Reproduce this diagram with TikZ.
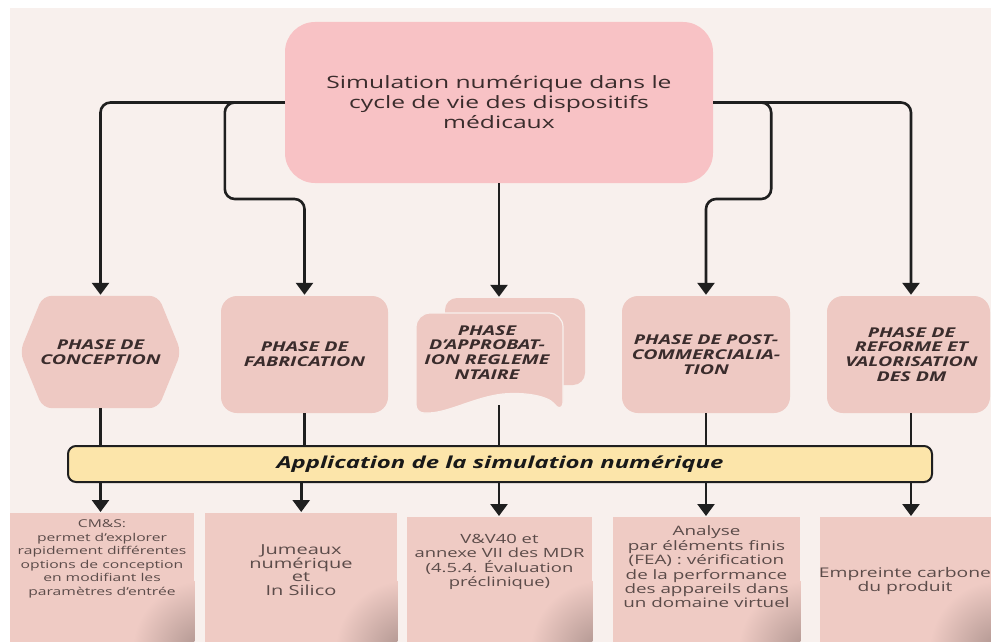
\documentclass[tikz,border=0pt]{standalone}
\usepackage{fontspec}
\setmainfont{Open Sans}[FakeStretch=1.45]
\usetikzlibrary{arrows.meta,calc,backgrounds}
\definecolor{bg}{HTML}{F8F0ED}
\definecolor{toppink}{HTML}{F8C2C5}
\definecolor{phasepink}{HTML}{EEC9C3}
\definecolor{botpink}{HTML}{EFCBC4}
\definecolor{bandyellow}{HTML}{FCE5AA}
\definecolor{txtdark}{HTML}{3A2C2C}
\definecolor{txtgray}{HTML}{5B4B49}
\begin{document}
\begin{tikzpicture}[x=1pt,y=-1pt,
  conn/.style={line width=2.6pt, draw=black!88, rounded corners=10pt},
  arr/.style={conn, -{Triangle[width=17pt,length=12pt]}, shorten >=1pt},
  phasetext/.style={font=\fontsize{13.5}{14.8}\selectfont\bfseries\itshape, text=txtdark, align=center, inner sep=0pt},
  phasebox/.style={phasetext, fill=phasepink, rounded corners=16pt},
  botshape/.style={fill=botpink, inner sep=0pt, anchor=north west},
  bottext/.style={align=center, text=txtgray, inner sep=0pt},
  corner/.style={inner color=black!28!botpink, outer color=botpink}
]
\useasboundingbox (0,0) rectangle (991,642);

% top node
\node[fill=toppink, rounded corners=30pt, minimum width=428pt, minimum height=161pt,
  align=center, text=txtdark, font=\fontsize{17}{20}\selectfont] (top) at (499,102.5)
  {Simulation numérique dans le\\cycle de vie des dispositifs\\médicaux};

% phase nodes
\node[phasetext, minimum width=161pt, minimum height=112pt] (conc) at (100.5,352) {PHASE DE\\CONCEPTION};
\begin{scope}[on background layer]
\fill[bg] (10,8) rectangle (991,642);
\fill[phasepink, rounded corners=9pt] (conc.west) -- ($(conc.north west)+(23,0)$) -- ($(conc.north east)+(-23,0)$)
  -- (conc.east) -- ($(conc.south east)+(-23,0)$) -- ($(conc.south west)+(23,0)$) -- cycle;
\end{scope}
\node[phasebox, minimum width=167pt, minimum height=117pt] (fab) at (304.5,354.5) {PHASE DE\\FABRICATION};
\node[fill=phasepink, rounded corners=12pt, minimum width=140pt, minimum height=87pt, inner sep=0pt] (appb) at (515,341.5) {};
\fill[phasepink, draw=bg, line width=1.2pt, rounded corners=14pt]
  (416,380) -- (416,313) -- (563,313) -- (563,415)
  [rounded corners=0pt] .. controls (548,396) and (525,392) .. (503,394)
  .. controls (475,397) and (448,413) .. (428,413) [rounded corners=8pt] -- (416,413) -- cycle;
\node[phasetext] (appr) at (487,352.5) {PHASE\\D'APPROBAT-\\ION REGLEME\\NTAIRE};
\coordinate (apprbot) at (499,405);
\node[phasebox, minimum width=168pt, minimum height=117pt] (post) at (706,354.5) {PHASE DE POST-\\COMMERCIALIA-\\TION};
\node[phasebox, minimum width=163pt, minimum height=117pt] (ref) at (908.5,354.5) {\hspace*{6pt}PHASE DE\\\hspace*{6pt}REFORME ET\\\hspace*{6pt}VALORISATION\\\hspace*{6pt}DES DM};
\coordinate (refx) at (911,413);

% band
\node[fill=bandyellow, draw=black!88, line width=2pt, rounded corners=8pt,
  minimum width=864pt, minimum height=36pt, inner sep=0pt,
  font=\fontsize{16.5}{19}\selectfont\bfseries\itshape, text=black!90] (band) at (500,464)
  {Application de la simulation numérique};

% bottom boxes
\node[botshape, minimum width=184pt, minimum height=129pt] (b1box) at (10,513) {};
\node[botshape, minimum width=192pt, minimum height=129pt] (b2box) at (205,513) {};
\node[botshape, minimum width=185pt, minimum height=125pt] (b3box) at (407,517) {};
\node[botshape, minimum width=187pt, minimum height=125pt] (b4box) at (613,517) {};
\node[botshape, minimum width=171pt, minimum height=125pt] (b5box) at (820,517) {};
\foreach \b in {b1box,b2box,b3box,b4box,b5box}{
  \begin{scope}
    \clip (\b.north west) rectangle (\b.south east);
    \shade[corner] ($(\b.south east)+(8,8)$) circle (70pt);
  \end{scope}
}

\node[bottext, font=\fontsize{10.8}{13.5}\selectfont] (b1) at (102,559)
  {CM\&S:\\permet d'explorer\\rapidement différentes\\options de conception\\en modifiant les\\paramètres d'entrée};
\node[bottext, font=\fontsize{13.8}{13.6}\selectfont] (b2) at (301,570)
  {Jumeaux\\numérique\\et\\In Silico};
\node[bottext, font=\fontsize{12.7}{14.5}\selectfont] (b3) at (499.5,562)
  {V\&V40 et\\annexe VII des MDR\\(4.5.4. Évaluation\\préclinique)};
\node[bottext, font=\fontsize{13}{14.4}\selectfont] (b4) at (706.5,567)
  {Analyse\\par éléments finis\\(FEA) : vérification\\de la performance\\des appareils dans\\un domaine virtuel};
\node[bottext, font=\fontsize{13.3}{13.5}\selectfont] (b5) at (905,581)
  {Empreinte carbone\\du produit};

% connectors from top
\draw[arr] (top.west) -| (conc.north);
\draw[arr] (top.west) -- ++(-60,0) -- ++(0,96.5) -| (fab.north);
\draw[arr] (top.south) -- (top.south |- appb.north);
\draw[arr] (top.east) -- ++(58,0) -- ++(0,96.5) -| (post.north);
\draw[arr] (top.east) -| (refx |- ref.north);

% phases to band
\draw[conn] (conc.south) -- (conc.south |- band.north);
\draw[conn] (fab.south) -- (fab.south |- band.north);
\draw[conn] (apprbot) -- (apprbot |- band.north);
\draw[conn] (post.south) -- (post.south |- band.north);
\draw[conn] (refx) -- (refx |- band.north);

% band to bottom boxes
\draw[arr] (conc.south |- band.south) -- (conc.south |- b1box.north);
\draw[arr] (b2box.north |- band.south) -- (b2box.north);
\draw[arr] (apprbot |- band.south) -- (apprbot |- b3box.north);
\draw[arr] (post.south |- band.south) -- (post.south |- b4box.north);
\draw[arr] (refx |- band.south) -- (refx |- b5box.north);
\end{tikzpicture}
\end{document}
